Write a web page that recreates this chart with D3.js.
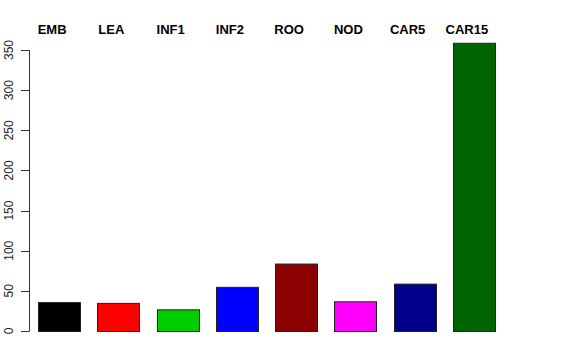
<!DOCTYPE html>
<html lang="en">
<head>
<meta charset="utf-8">
<title>barplot</title>
<script src="https://cdn.jsdelivr.net/npm/d3@7"></script>
<style>
  body { margin: 0; background: #fff; }
  text { font-family: "Liberation Sans", Arial, Helvetica, sans-serif; }
</style>
</head>
<body>
<div id="chart"></div>
<script>
// data
var categories = ["EMB", "LEA", "INF1", "INF2", "ROO", "NOD", "CAR5", "CAR15"];
var values = [36, 35, 27, 55, 84, 37, 59, 359];
var colors = ["#000000", "#FF0000", "#00CD00", "#0000FF", "#8B0000", "#FF00FF", "#00008B", "#006400"];
var yTicks = [0, 50, 100, 150, 200, 250, 300, 350];

var width = 576, height = 360;

var svg = d3.select("#chart").append("svg")
    .attr("width", width)
    .attr("height", height);

var x = d3.scaleBand()
    .domain(categories)
    .range([28, 505])
    .paddingInner(0.29)
    .paddingOuter(0.17);

var y = d3.scaleLinear()
    .domain([0, 350])
    .range([331, 50]);

// bars
svg.selectAll("rect.bar")
    .data(values)
    .enter().append("rect")
    .attr("class", "bar")
    .attr("x", function(d, i) { return Math.round(x(categories[i])) + 0.5; })
    .attr("y", function(d) { return y(d) + 0.5; })
    .attr("width", Math.round(x.bandwidth()))
    .attr("height", function(d) { return y(0) - y(d); })
    .style("fill", function(d, i) { return colors[i]; })
    .style("stroke", "#222")
    .style("stroke-width", 1);

// labels over the bars
svg.selectAll("text.lab")
    .data(categories)
    .enter().append("text")
    .attr("class", "lab")
    .attr("x", function(d) { return x(d) + x.bandwidth() / 2 - 7; })
    .attr("y", 34)
    .attr("text-anchor", "middle")
    .attr("font-size", "13px")
    .attr("font-weight", "bold")
    .text(function(d) { return d; });

// y axis, R style
var axis = svg.append("g");
axis.append("line")
    .attr("x1", 29.5).attr("x2", 29.5)
    .attr("y1", y(0)).attr("y2", y(350))
    .style("stroke", "#333");

axis.selectAll("line.tick")
    .data(yTicks)
    .enter().append("line")
    .attr("class", "tick")
    .attr("x1", 21).attr("x2", 29.5)
    .attr("y1", function(d) { return Math.round(y(d)) + 0.5; })
    .attr("y2", function(d) { return Math.round(y(d)) + 0.5; })
    .style("stroke", "#333");

axis.selectAll("text.tick")
    .data(yTicks)
    .enter().append("text")
    .attr("class", "tick")
    .attr("transform", function(d) { return "translate(13," + y(d) + ") rotate(-90)"; })
    .attr("text-anchor", "middle")
    .attr("font-size", "12px")
    .style("fill", "#222")
    .text(function(d) { return d; });
</script>
</body>
</html>
